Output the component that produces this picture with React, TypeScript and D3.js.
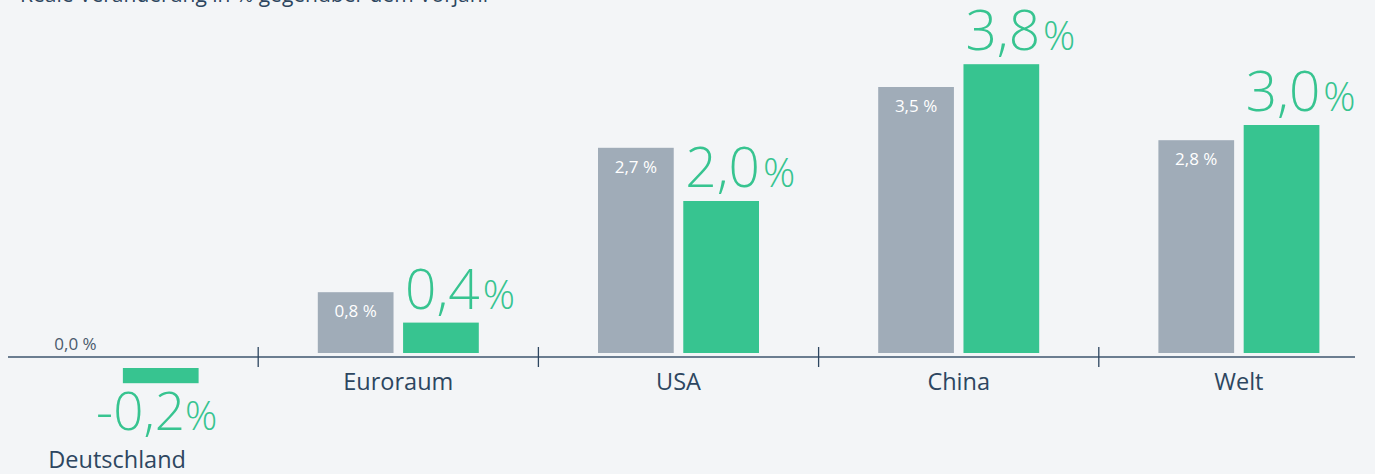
import React from "react";
import * as d3 from "d3";

const categories = ["Deutschland", "Euroraum", "USA", "China", "Welt"];
const previousValues = [0.0, 0.8, 2.7, 3.5, 2.8];
const currentValues = [-0.2, 0.4, 2.0, 3.8, 3.0];
const previousLabels = ["0,0 %", "0,8 %", "2,7 %", "3,5 %", "2,8 %"];
const currentLabels = ["-0,2", "0,4", "2,0", "3,8", "3,0"];
const title = "Reale Veränderung in % gegenüber dem Vorjahr";

const W = 1375;
const H = 474;
const GREEN = "#37c490";
const GRAY = "#a0acb8";
const DARK = "#2d4660";
const AXIS = "#6b7d90";
const FONT = "'Open Sans', 'Noto Sans', sans-serif";

export default function App() {
  const x = d3.scaleBand<string>().domain(categories).range([-22, 1379]).padding(0);
  const inner = d3.scaleBand<string>().domain(["prev", "cur"]).range([-80.5, 80.5]).paddingInner(0.112);
  const posZero = 353;
  const negZero = 368;
  const yPos = d3.scaleLinear().domain([0, 1]).range([posZero, posZero - 76]);
  const yNeg = d3.scaleLinear().domain([0, -1]).range([negZero, negZero + 76]);
  const axisY = 357;
  const bw = inner.bandwidth();

  return (
    <div style={{ position: "absolute", left: 0, top: 0, width: W, height: H, background: "#f3f5f7" }}>
      <svg width={W} height={H} style={{ display: "block", fontFamily: FONT }}>
        <rect x={0} y={0} width={W} height={H} fill="#f3f5f7" />
        <text x={20} y={2} fontSize={21} fill={DARK}>{title}</text>
        <line x1={8} x2={1355} y1={axisY} y2={axisY} stroke={AXIS} strokeWidth={2} />
        {categories.slice(1).map((c) => (
          <line key={"t" + c} x1={x(c)!} x2={x(c)!} y1={axisY - 10} y2={axisY + 10} stroke={DARK} strokeWidth={1.3} />
        ))}
        {categories.map((c, i) => {
          const cx = x(c)! + x.bandwidth() / 2;
          const px = cx + inner("prev")!;
          const gx = cx + inner("cur")!;
          const pv = previousValues[i];
          const cv = currentValues[i];
          const elems: React.ReactNode[] = [];
          if (pv > 0) {
            elems.push(
              <rect key="p" x={px} y={yPos(pv)} width={bw} height={posZero - yPos(pv)} fill={GRAY} />
            );
            elems.push(
              <text key="pl" x={px + bw / 2} y={yPos(pv) + 25} fontSize={17} fill="#ffffff" textAnchor="middle">
                {previousLabels[i]}
              </text>
            );
          } else {
            elems.push(
              <text key="pl" x={px + bw / 2} y={posZero - 3} fontSize={17} fill="#4a5a6c" textAnchor="middle">
                {previousLabels[i]}
              </text>
            );
          }
          if (cv >= 0) {
            elems.push(
              <rect key="c" x={gx} y={yPos(cv)} width={bw} height={posZero - yPos(cv)} fill={GREEN} />
            );
            elems.push(
              <text key="cl" x={gx + 2} y={yPos(cv) - 14} fill={GREEN} fontWeight={300}>
                <tspan fontSize={55}>{currentLabels[i]}</tspan>
                <tspan fontSize={40} dx={3}>%</tspan>
              </text>
            );
            elems.push(
              <text key="cat" x={cx} y={390} fontSize={23.5} fill={DARK} textAnchor="middle">
                {c}
              </text>
            );
          } else {
            elems.push(
              <rect key="c" x={gx} y={negZero} width={bw} height={yNeg(cv) - negZero} fill={GREEN} />
            );
            elems.push(
              <text key="cl" x={gx + bw / 2 - 4} y={yNeg(cv) + 47} fill={GREEN} fontWeight={300} textAnchor="middle">
                <tspan fontSize={53}>{currentLabels[i]}</tspan>
                <tspan fontSize={40} dx={0}>%</tspan>
              </text>
            );
            elems.push(
              <text key="cat" x={cx - 1} y={468} fontSize={23.5} fill={DARK} textAnchor="middle">
                {c}
              </text>
            );
          }
          return <g key={c}>{elems}</g>;
        })}
      </svg>
    </div>
  );
}
